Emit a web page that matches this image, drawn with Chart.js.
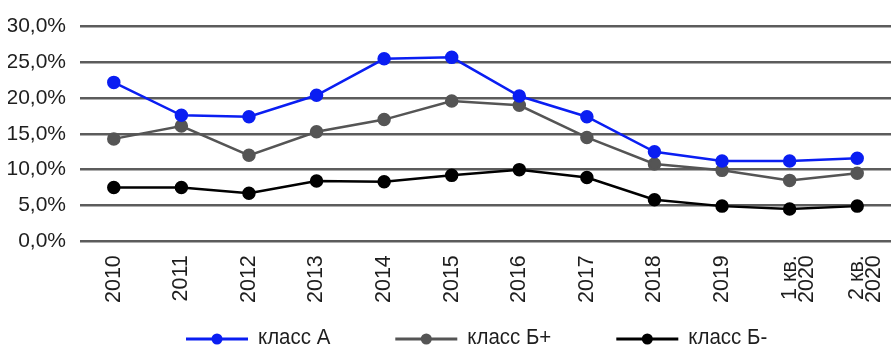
<!DOCTYPE html>
<html>
<head>
<meta charset="utf-8">
<script src="https://cdn.jsdelivr.net/npm/chart.js@4/dist/chart.umd.min.js"></script>
<style>
  html, body { margin: 0; padding: 0; background: #fff; overflow: hidden; }
  #wrap { width: 891px; height: 349px; position: relative; }
</style>
</head>
<body>
<div id="wrap"><canvas id="chart0"></canvas></div>
<script>
const years = ['2010', '2011', '2012', '2013', '2014', '2015', '2016', '2017', '2018', '2019', ['1 кв.', '2020'], ['2 кв.', '2020']];
const classA = [22.2, 17.6, 17.4, 20.4, 25.5, 25.7, 20.3, 17.4, 12.5, 11.2, 11.2, 11.6];
const classBplus = [14.3, 16.1, 12.0, 15.3, 17.0, 19.6, 19.0, 14.5, 10.8, 9.9, 8.5, 9.5];
const classBminus = [7.5, 7.5, 6.7, 8.4, 8.3, 9.2, 10.0, 8.9, 5.8, 4.9, 4.5, 4.9];
const seriesNames = ['класс А', 'класс Б+', 'класс Б-'];
const seriesColors = ['#0a1ef2', '#555555', '#000000'];

// legend drawn by hand: short line with a dot, then a narrow name
const lineLegend = {
  id: 'lineLegend',
  afterDraw(chart) {
    const ctx = chart.ctx;
    const squeeze = 0.93;
    let x = 186;
    const y = 339;
    ctx.save();
    ctx.font = '22px "Liberation Sans", sans-serif';
    ctx.textBaseline = 'middle';
    chart.data.datasets.forEach(ds => {
      ctx.strokeStyle = ds.borderColor;
      ctx.lineWidth = 3;
      ctx.beginPath();
      ctx.moveTo(x, y);
      ctx.lineTo(x + 62, y);
      ctx.stroke();
      ctx.fillStyle = ds.borderColor;
      ctx.beginPath();
      ctx.arc(x + 31, y, 5.5, 0, Math.PI * 2);
      ctx.fill();
      const w = ctx.measureText(ds.label).width * squeeze;
      ctx.save();
      ctx.translate(x + 72, y - 1);
      ctx.scale(squeeze, 1);
      ctx.fillStyle = '#1e1e1e';
      ctx.fillText(ds.label, 0, 0);
      ctx.restore();
      x += 72 + w + 65;
    });
    ctx.restore();
  }
};

const chart0 = document.getElementById('chart0');
const myChart0 = new Chart(chart0, {
  type: 'line',
  data: {
    labels: years,
    datasets: [classA, classBplus, classBminus].map((d, i) => ({
      label: seriesNames[i],
      data: d,
      borderColor: seriesColors[i],
      backgroundColor: seriesColors[i],
      borderWidth: 2.5,
      pointRadius: 5.5,
      pointHoverRadius: 5.5,
      tension: 0,
      fill: false
    }))
  },
  options: {
    responsive: true,
    maintainAspectRatio: false,
    animation: false,
    layout: { autoPadding: false, padding: { top: 8, right: 0, bottom: 40, left: 8 } },
    plugins: {
      legend: { display: false },
      tooltip: { enabled: false }
    },
    scales: {
      x: {
        offset: true,
        grid: { display: false },
        border: { display: false },
        // let the plot run to both edges
        afterFit(scale) {
          scale.paddingLeft = 0;
          scale.paddingRight = 0;
        },
        ticks: {
          minRotation: 90,
          maxRotation: 90,
          padding: 6,
          color: '#1e1e1e',
          font: { family: '"Liberation Sans", sans-serif', size: 21.5, lineHeight: 0.8 }
        }
      },
      y: {
        min: 0,
        max: 30,
        border: { display: false },
        grid: { color: '#5c5c5c', lineWidth: 2.5, drawTicks: false },
        afterFit(scale) {
          scale.width = 72;
        },
        ticks: {
          stepSize: 5,
          padding: 14,
          color: '#1e1e1e',
          font: { family: '"Liberation Sans", sans-serif', size: 21 },
          callback: v => v.toFixed(1).replace('.', ',') + '%'
        }
      }
    }
  },
  plugins: [lineLegend]
});
</script>
</body>
</html>
